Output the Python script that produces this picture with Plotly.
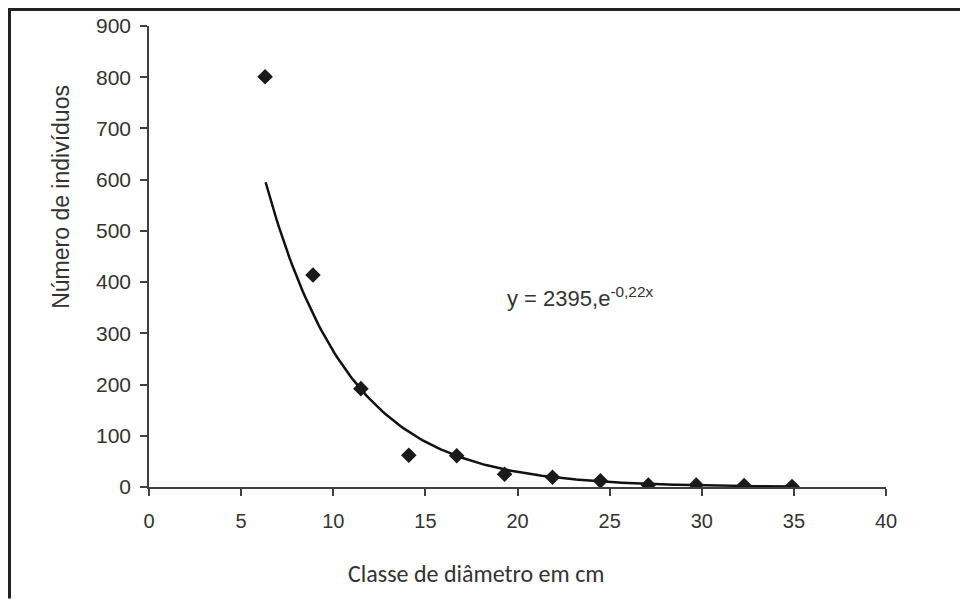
import numpy as np
import plotly.graph_objects as go

# Data
diameter_class = [6.3, 8.9, 11.5, 14.1, 16.7, 19.3, 21.9, 24.5, 27.1, 29.7, 32.3, 34.9]
individuals = [801, 414, 192, 62, 61, 25, 19, 12, 4, 4, 3, 1]

# Trend line coefficients shown on the chart: y = 2395 e^(-0.22x)
trend_a = 2395
trend_b = -0.22
trend_x = np.linspace(6.33, 35.0, 200)
trend_y = trend_a * np.exp(trend_b * trend_x)

x_ticks = [0, 5, 10, 15, 20, 25, 30, 35, 40]
y_ticks = [0, 100, 200, 300, 400, 500, 600, 700, 800, 900]

# page is rendered with an 8px body margin; work in page pixels and convert
OFF = 8
W, H = 968 - OFF, 599 - OFF
L, R, T, B = 149, 886, 26, 487.5  # plot area in page pixels


def px(xp):
    return (xp - L) / (R - L)


def py(yp):
    return (B - yp) / (B - T)


fig = go.Figure()
fig.add_trace(go.Scatter(
    x=trend_x, y=trend_y, mode="lines",
    line=dict(color="#111111", width=2.5), hoverinfo="skip", showlegend=False))
fig.add_trace(go.Scatter(
    x=diameter_class, y=individuals, mode="markers",
    marker=dict(symbol="diamond", size=12, color="#1a1a1a"), showlegend=False))

fig.add_annotation(
    x=px(580), y=py(297), xref="paper", yref="paper", showarrow=False,
    xanchor="center", yanchor="middle",
    text="y = 2395,e<sup>-0,22x</sup>",
    font=dict(family="Liberation Sans, Arial", size=22, color="#333333"))

# axis titles placed as in the reference
fig.add_annotation(
    x=px(61), y=py(197), xref="paper", yref="paper", showarrow=False,
    xanchor="center", yanchor="middle",
    text="Número de indivíduos", textangle=-90,
    font=dict(family="Liberation Sans, Arial", size=23, color="#333333"))
fig.add_annotation(
    x=px(476), y=py(574), xref="paper", yref="paper", showarrow=False,
    xanchor="center", yanchor="middle",
    text="Classe de diâmetro em cm",
    font=dict(family="Carlito, Lato, Open Sans", size=24, color="#333333"))

# outer frame (top and left edges)
fig.add_shape(type="line", xref="paper", yref="paper",
              x0=px(8), x1=px(968), y0=py(9.5), y1=py(9.5),
              line=dict(color="#222222", width=3))
fig.add_shape(type="line", xref="paper", yref="paper",
              x0=px(9.5), x1=px(9.5), y0=py(8), y1=py(599),
              line=dict(color="#222222", width=3))

axis_common = dict(showgrid=False, zeroline=False, showline=True,
                   linecolor="#404040", linewidth=1.5, automargin=False,
                   ticks="outside", tickcolor="#404040", tickwidth=1.5, ticklen=7)

fig.update_xaxes(range=[0, 40], tickvals=x_ticks, ticktext=[str(v) for v in x_ticks],
                 tickfont=dict(family="Liberation Sans Narrow, Liberation Sans, Arial", size=20, color="#333333"),
                 ticklabelstandoff=8,
                 **axis_common)
fig.update_yaxes(range=[0, 900], tickvals=y_ticks, ticktext=[str(v) for v in y_ticks],
                 tickfont=dict(family="Liberation Sans, Arial", size=21, color="#333333"),
                 ticklabelstandoff=5,
                 **axis_common)

fig.update_layout(
    width=W, height=H,
    margin=dict(l=L - OFF, r=968 - R, t=T - OFF, b=599 - B, pad=0, autoexpand=False),
    plot_bgcolor="white", paper_bgcolor="white",
)

fig.write_html("out.html")
